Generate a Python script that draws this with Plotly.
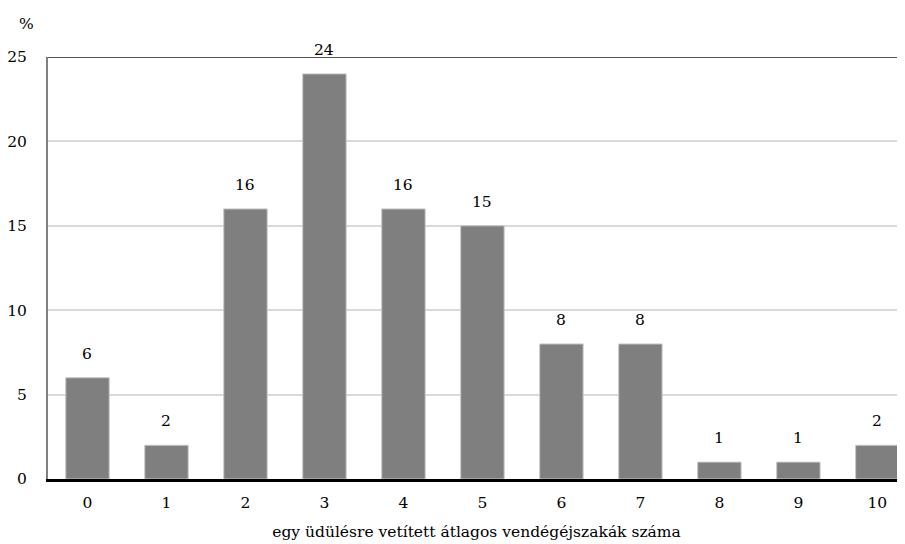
import plotly.graph_objects as go

categories = ["0", "1", "2", "3", "4", "5", "6", "7", "8", "9", "10"]
values = [6, 2, 16, 24, 16, 15, 8, 8, 1, 1, 2]
y_ticks = [0, 5, 10, 15, 20, 25]
x_title = "egy üdülésre vetített átlagos vendégéjszakák száma"
y_unit = "%"

FONT = "DejaVu Serif"
FS = 15.5

fig = go.Figure()
fig.add_trace(go.Bar(
    x=list(range(len(categories))),
    y=values,
    marker=dict(color="#7f7f7f", line=dict(color="#c8c8c8", width=1)),
    width=0.55,
    hoverinfo="x+y",
))

annotations = [dict(text=str(v), x=i, y=v, xref="x", yref="y", showarrow=False,
                    xanchor="center", yanchor="bottom", yshift=13,
                    font=dict(family=FONT, size=FS, color="#000000"))
               for i, v in enumerate(values)]
annotations.append(dict(text=y_unit, xref="paper", yref="paper",
                        x=-0.025, y=1.078, showarrow=False, xanchor="center", yanchor="middle",
                        font=dict(family=FONT, size=FS)))

fig.update_layout(
    width=897, height=536,
    margin=dict(l=40, r=0, t=49, b=65, autoexpand=False),
    paper_bgcolor="white", plot_bgcolor="white",
    font=dict(family=FONT, size=FS, color="#000000"),
    showlegend=False,
    xaxis=dict(
        range=[-0.5, 10.35],
        tickmode="array",
        tickvals=list(range(len(categories))),
        ticktext=categories,
        showgrid=False,
        zeroline=False,
        showline=True, linecolor="#000000", linewidth=2.5,
        ticks="", ticklabelstandoff=8,
        title=dict(text=x_title, font=dict(family=FONT, size=FS), standoff=15),
    ),
    yaxis=dict(
        range=[0, 25],
        tickmode="array",
        tickvals=y_ticks,
        ticktext=[str(t) for t in y_ticks],
        showgrid=True, gridcolor="#d9d9d9", gridwidth=1.5,
        zeroline=False,
        showline=True, linecolor="#808080", linewidth=2,
        ticks="", ticklabelstandoff=16,
    ),
    shapes=[dict(type="line", xref="paper", yref="y", x0=0, x1=1, y0=25, y1=25,
                 line=dict(color="#1a1a1a", width=1.5))],
    annotations=annotations,
)

fig.write_html("out.html")
